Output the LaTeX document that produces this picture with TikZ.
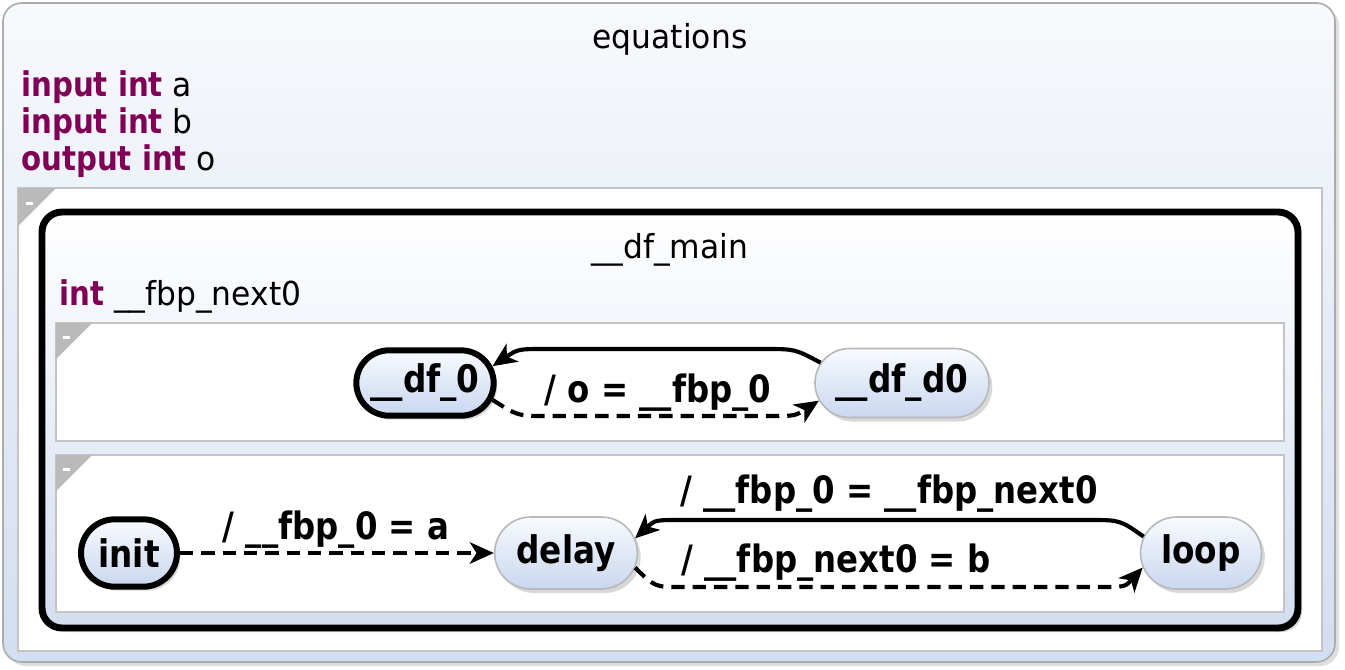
\documentclass[tikz,border=0pt]{standalone}
\usepackage{fontspec}
\setmainfont{DejaVu Sans}
\newfontfamily\condf[FakeStretch=0.86]{DejaVu Sans}
\newfontfamily\regf[FakeStretch=0.95]{DejaVu Sans}
\usetikzlibrary{arrows.meta,shapes.misc,shadows}
\definecolor{kw}{HTML}{7F0055}
\definecolor{nodetop}{HTML}{F8FAFE}
\definecolor{nodebot}{HTML}{C9D7EF}
\definecolor{outtop}{HTML}{F8F9FC}
\definecolor{outbot}{HTML}{D2DEF1}
\definecolor{boxline}{HTML}{ABABAB}
\definecolor{regline}{HTML}{C4C4C4}
\definecolor{nodeline}{HTML}{B8B8B8}
\begin{document}
\begin{tikzpicture}[x=0.75pt,y=-0.75pt,
  shad/.style={drop shadow={opacity=0.3,shadow xshift=2.5pt,shadow yshift=-3pt}},
  stnode/.style={shape=rounded rectangle, top color=nodetop, bottom color=nodebot,
    draw=nodeline, line width=1.2pt, inner sep=0pt, shad,
    font=\condf\bfseries\fontsize{28.5}{30}\selectfont},
  startnode/.style={draw=black, line width=4.5pt},
  lbl/.style={inner sep=0pt, font=\condf\bfseries\fontsize{28.25}{30}\selectfont},
  decl/.style={inner sep=0pt, anchor=base west, font=\regf\fontsize{24.75}{28}\selectfont},
  title/.style={inner sep=0pt, anchor=base, font=\regf\fontsize{24.75}{28}\selectfont},
  region/.style={fill=white, draw=regline, line width=1.5pt},
  corner/.style={fill=black!27},
  tr/.style={line width=3.1pt, -{Stealth[length=18pt,width=16pt,inset=5pt]}},
  dtr/.style={tr, dash pattern=on 10pt off 6pt}
]
\useasboundingbox (0,0) rectangle (1345,669);
\fill[white] (0,0) rectangle (1345,669);
% outer box
\path[draw=boxline, line width=1.2pt, rounded corners=14pt, top color=outtop, bottom color=outbot,
  drop shadow={opacity=0.25,shadow xshift=3pt,shadow yshift=-3pt}] (3,3) rectangle (1335,662);
\node[title] (eqtitle) at (670,48) {equations};
\newcommand{\kwd}[1]{{\condf\bfseries\fontsize{25.5}{28}\selectfont\color{kw}#1}}
\node[decl] (decla) at (21,96) {\kwd{input int} a};
\node[decl] (declb) at (21,133) {\kwd{input int} b};
\node[decl] (declo) at (21,170) {\kwd{output int} o};
% region of equations
\path[region] (18,188) rectangle (1322,651);
\fill[corner] (18,188) -- (56,188) -- (18,226) -- cycle;
\fill[white] (26,202) rectangle (33,205);
% df_main state
\path[draw=black, line width=5.2pt, rounded corners=15pt, top color=white, bottom color=outbot,
  drop shadow={opacity=0.3,shadow xshift=3pt,shadow yshift=-3pt}] (42,212) rectangle (1298,628);
\node[title] (mtitle) at (670,258) {\_\_df\_main};
\node[decl] (declnext) at (59,305) {\kwd{int} \_\_fbp\_next0};
% region 1
\path[region] (56,323) rectangle (1284,441);
\fill[corner] (56,323) -- (92,323) -- (56,359) -- cycle;
\fill[white] (63,336) rectangle (70,339);
% region 2
\path[region] (56,455) rectangle (1284,612);
\fill[corner] (56,455) -- (92,455) -- (56,491) -- cycle;
\fill[white] (63,468) rectangle (70,471);
% states
\node[stnode, startnode, minimum width=103pt, minimum height=49pt] (df0) at (425,383) {\_\_df\_0};
\node[stnode, minimum width=130.5pt, minimum height=51.75pt] (dfd0) at (902,383) {\_\_df\_d0};
\node[stnode, startnode, minimum width=72pt, minimum height=50.5pt] (init) at (129,553) {init};
\node[stnode, minimum width=107pt, minimum height=54pt] (delay) at (566,553) {delay};
\node[stnode, minimum width=90.75pt, minimum height=54pt] (loop) at (1201,553) {loop};
% transitions region 1
\draw[tr] (dfd0.166) .. controls (795,349) .. (765,349) -- (545,349) .. controls (518,349) .. (df0.14);
\draw[dtr] (df0.-14) .. controls (518,416) .. (545,416) -- (770,416) .. controls (795,416) .. (dfd0.192);
\node[lbl] (l1) at (658,393) {/ o = \_\_fbp\_0};
% transitions region 2
\draw[dtr] (init.east) -- (delay.west);
\node[lbl] (l2) at (336,530) {/ \_\_fbp\_0 = a};
\draw[tr] (loop.164) .. controls (1120,520) .. (1090,520) -- (680,520) .. controls (655,520) .. (delay.12);
\node[lbl] (l3) at (889,494) {/ \_\_fbp\_0 = \_\_fbp\_next0};
\draw[dtr] (delay.-12) .. controls (655,587) .. (680,587) -- (1100,587) .. controls (1125,587) .. (loop.194);
\node[lbl] (l4) at (836,563) {/ \_\_fbp\_next0 = b};
\end{tikzpicture}
\end{document}
